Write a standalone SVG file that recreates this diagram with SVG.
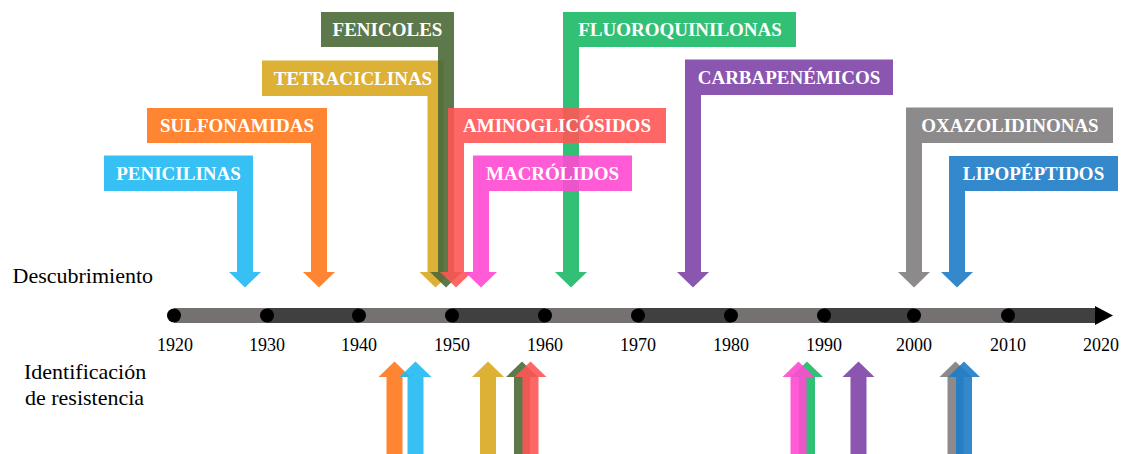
<svg xmlns="http://www.w3.org/2000/svg" width="1121" height="454" viewBox="0 0 1121 454">
<style>
.lbl{font-family:"Liberation Serif","DejaVu Serif",serif;font-weight:bold;font-size:19px;fill:#fff;text-anchor:middle}
.yr{font-family:"Liberation Serif","DejaVu Serif",serif;font-size:18px;fill:#000;text-anchor:middle}
.axis{font-family:"Liberation Serif","DejaVu Serif",serif;font-size:22px;fill:#000}
.shape{fill-opacity:0.9}
.pen{fill:#20B9F2}.sul{fill:#FF781C}.tet{fill:#D8A820}.fen{fill:#4B6937}.flu{fill:#1CB867}
.ami{fill:#FF5555}.mac{fill:#FF49D1}.car{fill:#7D44A6}.oxa{fill:#7F7D7D}.lip{fill:#1D7CC5}
.lt{fill:#767171}.dk{fill:#404040}
</style>
<rect width="1121" height="454" fill="#fff"/>
<g id="axis-labels">
<text class="axis" x="12.5" y="283">Descubrimiento</text>
<text class="axis" x="24" y="379">Identificación</text>
<text class="axis" x="25" y="405">de resistencia</text>
</g>
<g id="timeline">
<rect class="lt" x="174" y="308" width="93" height="15"/>
<rect class="dk" x="267" y="308" width="92" height="15"/>
<rect class="lt" x="359" y="308" width="93" height="15"/>
<rect class="dk" x="452" y="308" width="93" height="15"/>
<rect class="lt" x="545" y="308" width="93" height="15"/>
<rect class="dk" x="638" y="308" width="93" height="15"/>
<rect class="lt" x="731" y="308" width="93" height="15"/>
<rect class="dk" x="824" y="308" width="90" height="15"/>
<rect class="lt" x="914" y="308" width="94" height="15"/>
<rect class="dk" x="1008" y="308" width="88" height="15"/>
<path d="M1095,306 L1113,315.5 L1095,325 Z" fill="#000"/>
<g fill="#000">
<circle cx="174" cy="315.5" r="7"/><circle cx="267" cy="315.5" r="7"/><circle cx="359" cy="315.5" r="7"/>
<circle cx="452" cy="315.5" r="7"/><circle cx="545" cy="315.5" r="7"/><circle cx="638" cy="315.5" r="7"/>
<circle cx="731" cy="315.5" r="7"/><circle cx="824" cy="315.5" r="7"/><circle cx="914" cy="315.5" r="7"/>
<circle cx="1008" cy="315.5" r="7"/>
</g>
<text class="yr" x="175" y="351">1920</text><text class="yr" x="267" y="351">1930</text>
<text class="yr" x="359" y="351">1940</text><text class="yr" x="452" y="351">1950</text>
<text class="yr" x="545" y="351">1960</text><text class="yr" x="638" y="351">1970</text>
<text class="yr" x="731" y="351">1980</text><text class="yr" x="824" y="351">1990</text>
<text class="yr" x="914" y="351">2000</text><text class="yr" x="1008" y="351">2010</text>
<text class="yr" x="1101" y="351">2020</text>
</g>
<g id="connectors">
<path class="shape sul" d="M386.5,455 V377 H378.5 L394.5,361.5 L410.5,377 H402.5 V455 Z"/>
<path class="shape pen" d="M407.5,455 V377 H399.5 L415.5,361.5 L431.5,377 H423.5 V455 Z"/>
<path class="shape tet" d="M480,455 V377 H472 L488,361.5 L504,377 H496 V455 Z"/>
<path class="shape fen" d="M514,455 V377 H506 L522,361.5 L538,377 H530 V455 Z"/>
<path class="shape ami" d="M522.5,455 V377 H514.5 L530.5,361.5 L546.5,377 H538.5 V455 Z"/>
<path class="shape flu" d="M799,455 V377 H791 L807,361.5 L823,377 H815 V455 Z"/>
<path class="shape mac" d="M790.5,455 V377 H782.5 L798.5,361.5 L814.5,377 H806.5 V455 Z"/>
<path class="shape car" d="M850.5,455 V377 H842.5 L858.5,361.5 L874.5,377 H866.5 V455 Z"/>
<path class="shape oxa" d="M947.5,455 V377 H939.5 L955.5,361.5 L971.5,377 H963.5 V455 Z"/>
<path class="shape lip" d="M956,455 V377 H948 L964,361.5 L980,377 H972 V455 Z"/>
</g>
<g id="penicilinas">
<path class="shape pen" d="M104,155.5 H253 V272 H261 L245,287.5 L229,272 H237 V191 H104 Z"/>
<text class="lbl" x="178.5" y="180">PENICILINAS</text>
</g>
<g id="sulfonamidas">
<path class="shape sul" d="M147,108 H327 V272 H335 L319,287.5 L303,272 H311 V143 H147 Z"/>
<text class="lbl" x="237" y="132">SULFONAMIDAS</text>
</g>
<g id="tetraciclinas">
<path class="shape tet" d="M262,60.5 H443.5 V272 H451.5 L435.5,287.5 L419.5,272 H427.5 V96 H262 Z"/>
<text class="lbl" x="353" y="84.5">TETRACICLINAS</text>
</g>
<g id="fenicoles">
<path class="shape fen" d="M321,12 H454 V272 H462 L446,287.5 L430,272 H438 V47 H321 Z"/>
<text class="lbl" x="387.5" y="36">FENICOLES</text>
</g>
<g id="fluoroquinilonas">
<path class="shape flu" d="M563,12 H796 V47 H579 V272 H587 L571,287.5 L555,272 H563 Z"/>
<text class="lbl" x="680" y="36">FLUOROQUINILONAS</text>
</g>
<g id="aminoglicosidos">
<path class="shape ami" d="M448,108 H666 V143 H464 V272 H472 L456,287.5 L440,272 H448 Z"/>
<text class="lbl" x="557" y="132">AMINOGLICÓSIDOS</text>
</g>
<g id="macrolidos">
<path class="shape mac" d="M473,155.5 H632 V191 H489 V272 H497 L481,287.5 L465,272 H473 Z"/>
<text class="lbl" x="552.5" y="180">MACRÓLIDOS</text>
</g>
<g id="carbapenemicos">
<path class="shape car" d="M685,59.5 H893 V95 H701 V272 H709 L693,287.5 L677,272 H685 Z"/>
<text class="lbl" x="789" y="83.5">CARBAPENÉMICOS</text>
</g>
<g id="oxazolidinonas">
<path class="shape oxa" d="M906,107.5 H1113 V143 H922 V272 H930 L914,287.5 L898,272 H906 Z"/>
<text class="lbl" x="1010" y="131.5">OXAZOLIDINONAS</text>
</g>
<g id="lipopeptidos">
<path class="shape lip" d="M949,156 H1118 V191 H965 V272 H973 L957,287.5 L941,272 H949 Z"/>
<text class="lbl" x="1033.5" y="180">LIPOPÉPTIDOS</text>
</g>
</svg>
